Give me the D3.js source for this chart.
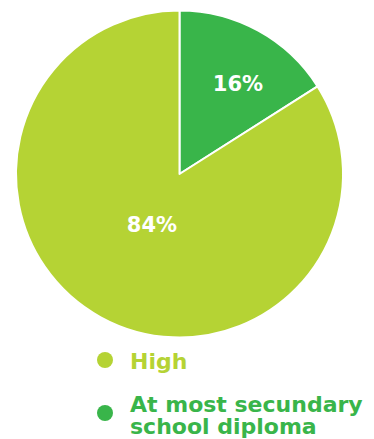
<!DOCTYPE html>
<html>
<head>
<meta charset="utf-8">
<script src="https://cdn.jsdelivr.net/npm/d3@7"></script>
<style>
  html, body { margin: 0; padding: 0; background: #ffffff; }
  svg { display: block; }
</style>
</head>
<body>
<script>
// Education level shares
const categories = ["At most secundary school diploma", "High"];
const values = [16, 84];
const colors = ["#39b54a", "#b5d334"];
const legendOrder = ["High", "At most secundary school diploma"];
const legendLines = [["High"], ["At most secundary", "school diploma"]];
// radial position of each percentage label, as a fraction of the radius
const labelRadius = [0.66, 0.35];

const width = 374, height = 439;
const cx = 179.5, cy = 174, R = 163.5;
const font = "'DejaVu Sans', Verdana, sans-serif";

const svg = d3.select("body").append("svg")
  .attr("width", width).attr("height", height);

const color = d3.scaleOrdinal().domain(categories).range(colors);

const pie = d3.pie().sort(null).value(d => d.value);
const arcs = pie(categories.map((c, i) => ({ name: c, value: values[i], idx: i })));
const arc = d3.arc().innerRadius(0).outerRadius(R);

const g = svg.append("g").attr("transform", `translate(${cx},${cy})`);

g.selectAll("path.slice").data(arcs).join("path")
  .attr("class", "slice")
  .attr("d", arc)
  .attr("fill", d => color(d.data.name))
  .attr("stroke", "#ffffff")
  .attr("stroke-width", 2)
  .attr("stroke-linejoin", "round");

g.selectAll("text.pct").data(arcs).join("text")
  .attr("class", "pct")
  .attr("transform", d => {
    const r = R * labelRadius[d.data.idx];
    const a = (d.startAngle + d.endAngle) / 2 + (d.data.idx === 0 ? 0.07 : 0);
    return `translate(${r * Math.sin(a)},${-r * Math.cos(a)})`;
  })
  .attr("text-anchor", "middle")
  .attr("dy", "0.36em")
  .attr("fill", "#ffffff")
  .style("font-family", font)
  .style("font-weight", "bold")
  .style("font-size", "21px")
  .text(d => d.data.value + "%");

// Legend
const legendY = d3.scalePoint().domain(legendOrder).range([360, 413]);
const legend = svg.append("g");
const items = legend.selectAll("g.item").data(legendOrder).join("g")
  .attr("class", "item")
  .attr("transform", d => `translate(0,${legendY(d)})`);

items.append("circle")
  .attr("cx", 105).attr("cy", 0).attr("r", 8)
  .attr("fill", d => color(d));

items.each(function(d, i) {
  const lines = legendLines[i];
  const first = lines.length > 1 ? -1 : 9;
  d3.select(this).selectAll("text.lbl").data(lines).join("text")
    .attr("class", "lbl")
    .attr("x", 130)
    .attr("y", (ln, j) => first + j * 22)
    .attr("fill", color(d))
    .style("font-family", font)
    .style("font-weight", "bold")
    .style("font-size", "22px")
    .text(ln => ln);
});
</script>
</body>
</html>
